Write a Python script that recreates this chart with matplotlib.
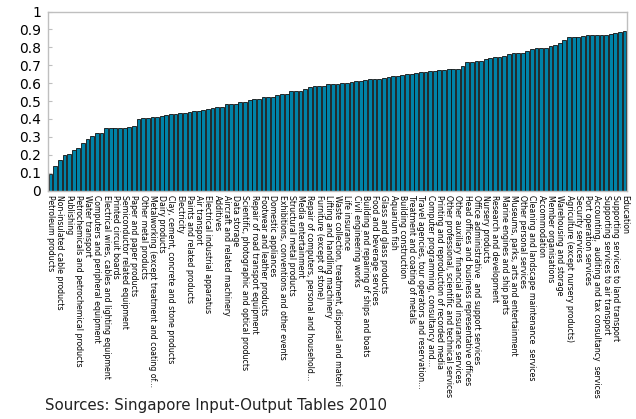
import matplotlib
matplotlib.use("Agg")
import matplotlib.pyplot as plt
import numpy as np

values = [
    0.095, 0.137, 0.170, 0.198, 0.207, 0.228, 0.240, 0.267, 0.290, 0.307,
    0.320, 0.323, 0.347, 0.347, 0.351, 0.351, 0.351, 0.358, 0.363, 0.400,
    0.403, 0.403, 0.409, 0.412, 0.416, 0.420, 0.428, 0.428, 0.432, 0.435,
    0.439, 0.443, 0.443, 0.452, 0.458, 0.463, 0.467, 0.467, 0.486, 0.486,
    0.486, 0.494, 0.494, 0.508, 0.512, 0.512, 0.522, 0.522, 0.524, 0.535,
    0.540, 0.540, 0.554, 0.556, 0.556, 0.569, 0.578, 0.585, 0.585, 0.585,
    0.594, 0.594, 0.598, 0.602, 0.602, 0.608, 0.610, 0.613, 0.620, 0.622,
    0.626, 0.626, 0.629, 0.637, 0.641, 0.641, 0.645, 0.652, 0.652, 0.658,
    0.665, 0.665, 0.667, 0.667, 0.671, 0.673, 0.678, 0.678, 0.678, 0.697,
    0.719, 0.719, 0.722, 0.722, 0.733, 0.741, 0.746, 0.748, 0.754, 0.763,
    0.771, 0.771, 0.771, 0.780, 0.789, 0.794, 0.794, 0.798, 0.808, 0.815,
    0.824, 0.841, 0.856, 0.859, 0.859, 0.863, 0.867, 0.867, 0.867, 0.867,
    0.870, 0.874, 0.880, 0.887, 0.894,
]

labels = [
    "Petroleum products",
    "Non-insulated cable products",
    "Publishing",
    "Petrochemicals and petrochemical products",
    "Water transport",
    "Computers and peripheral equipment",
    "Electrical wires, cables and lighting equipment",
    "Printed circuit boards",
    "Semiconductor related equipment",
    "Paper and paper products",
    "Other metal products",
    "Metalworking (except treatment and coating of...",
    "Dairy products",
    "Clay, cement, concrete and stone products",
    "Electricity",
    "Paints and related products",
    "Air transport",
    "Electrical industrial apparatus",
    "Additives",
    "Aircraft and related machinery",
    "Data storage",
    "Scientific, photographic and optical products",
    "Repair of road transport equipment",
    "Footwear and leather products",
    "Domestic appliances",
    "Exhibitions, conventions and other events",
    "Structural metal products",
    "Media entertainment",
    "Repair of computers, personal and household...",
    "Furniture (except of stone)",
    "Lifting and handling machinery",
    "Waste collection, treatment, disposal and materi",
    "Life insurance",
    "Civil engineering works",
    "Building and repairing of ships and boats",
    "Food and beverage services",
    "Glass and glass products",
    "Aquarium fish",
    "Building construction",
    "Treatment and coating of metals",
    "Travel agencies, tour operators and reservation...",
    "Computer programming, consultancy and...",
    "Printing and reproduction of recorded media",
    "Other professional, scientific and technical services",
    "Other auxiliary financial and insurance services",
    "Head offices and business representative offices",
    "Office administrative  and support services",
    "Nursery products",
    "Research and development",
    "Marine engines and ship parts",
    "Museums, parks, arts and entertainment",
    "Other personal services",
    "Cleaning and landscape maintenance  services",
    "Accommodation",
    "Member organisations",
    "Warehousing and storage",
    "Agriculture (except nursery products)",
    "Security services",
    "Port operation services",
    "Accounting,  auditing and tax consultancy  services",
    "Supporting services to air transport",
    "Supporting services to land transport",
    "Education",
]

yticks = [0, 0.1, 0.2, 0.3, 0.4, 0.5, 0.6, 0.7, 0.8, 0.9, 1]
ytick_labels = ["0", "0.1", "0.2", "0.3", "0.4", "0.5", "0.6", "0.7", "0.8", "0.9", "1"]
source = "Sources: Singapore Input-Output Tables 2010"

fig = plt.figure(figsize=(6.36, 4.19), dpi=100)
ax = fig.add_axes([0.0755, 0.545, 0.9105, 0.4275])

x = np.arange(len(values))
ax.bar(x, values, width=0.82, color="#0083a8", edgecolor="#111111", linewidth=0.6)

ax.set_xlim(-0.55, len(values) - 0.45)
ax.set_ylim(0, 1)
ax.set_yticks(yticks)
ax.set_yticklabels(ytick_labels, fontsize=10)
ax.tick_params(axis="y", direction="in", length=3, color="#bfbfbf", pad=5)

ax.set_xticks(x[::2])
ax.set_xticklabels(labels, rotation=-90, fontsize=5.6, ha="center", va="top")
ax.tick_params(axis="x", length=0, pad=3)

for s in ax.spines.values():
    s.set_color("#bfbfbf")
    s.set_linewidth(1.0)

fig.text(0.071, 0.033, source, fontsize=10.8, color="#222222", ha="left", va="center",
         bbox=dict(facecolor="white", edgecolor="none", pad=1.5), zorder=10)

fig.savefig("out.png", dpi=100)
